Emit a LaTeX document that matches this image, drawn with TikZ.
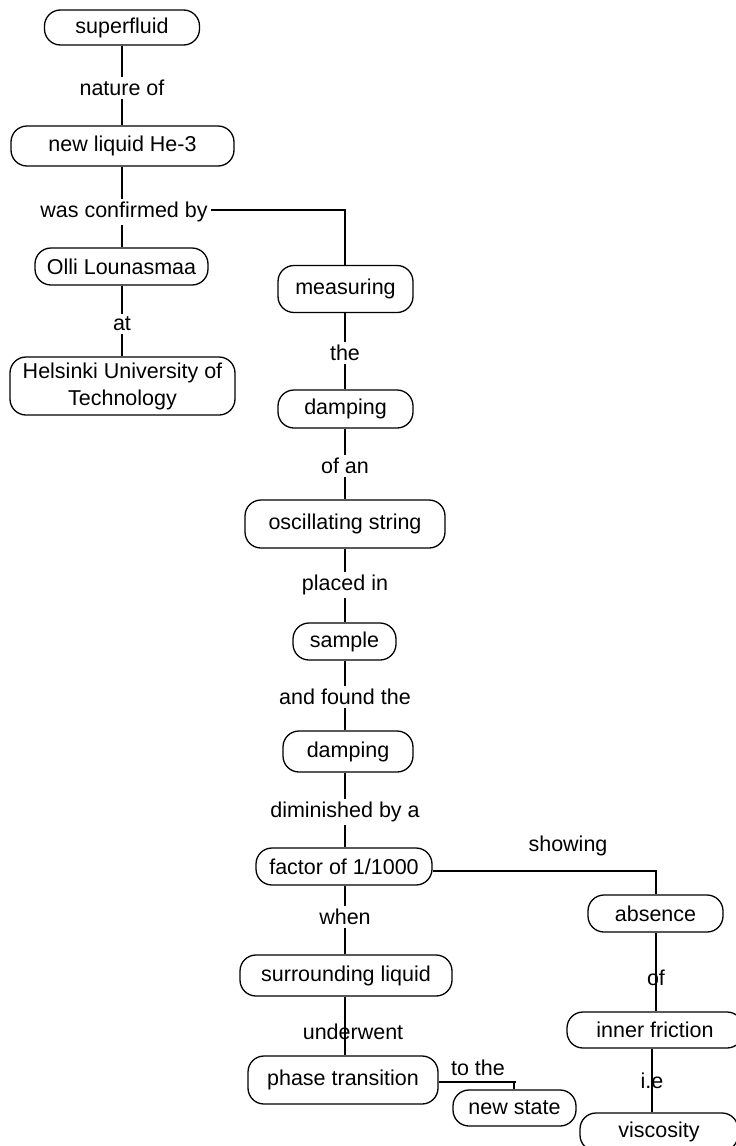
\documentclass[tikz,border=0pt]{standalone}
\usepackage{fontspec}
\setmainfont{Liberation Sans}
\begin{document}
\begin{tikzpicture}[x=1pt,y=-1pt,
  concept/.style={draw, line width=1.3pt, rounded corners=16pt, inner sep=0pt,
    align=center, font=\fontsize{21.5}{27}\selectfont},
  linklabel/.style={inner sep=3pt, font=\fontsize{21.5}{25}\selectfont},
  link/.style={line width=1.4pt}]
\useasboundingbox (0,0) rectangle (736,1146);

% concepts
\node[concept, minimum width=155pt, minimum height=35pt] (superfluid) at (122,27.5) {superfluid};
\node[concept, minimum width=223pt, minimum height=40pt] (helium) at (122.5,146) {new liquid He-3};
\node[concept, minimum width=173pt, minimum height=37pt] (olli) at (121.5,266.5) {Olli Lounasmaa};
\node[concept, minimum width=225pt, minimum height=58pt] (hut) at (122.5,386) {Helsinki University of\\Technology};
\node[concept, minimum width=135pt, minimum height=47pt] (measuring) at (345.5,289) {measuring};
\node[concept, minimum width=135pt, minimum height=38pt] (dampA) at (345.5,409) {damping};
\node[concept, minimum width=200pt, minimum height=48pt] (string) at (345,524) {oscillating string};
\node[concept, minimum width=103pt, minimum height=37pt] (sample) at (344.5,641.5) {sample};
\node[concept, minimum width=130pt, minimum height=41pt] (dampB) at (348,751.5) {damping};
\node[concept, minimum width=176pt, minimum height=37pt] (factor) at (344,866.5) {factor of 1/1000};
\node[concept, minimum width=135pt, minimum height=37pt] (absence) at (655.5,913.5) {absence};
\node[concept, minimum width=212pt, minimum height=41pt] (surround) at (346,975.5) {surrounding liquid};
\node[concept, minimum width=176pt, minimum height=36pt] (friction) at (655,1030) {inner friction};
\node[concept, minimum width=190pt, minimum height=48pt] (phase) at (343,1080) {phase transition};
\node[concept, minimum width=123pt, minimum height=36pt] (newstate) at (514.5,1108) {new state};
\node[concept, minimum width=158pt, minimum height=38pt] (viscosity) at (659,1132) {viscosity};

% linking phrases set apart from their lines
\node[linklabel] (natureof) at (122,88) {nature of};
\node[linklabel] (confirmed) at (124,212) {was confirmed by};
\node[linklabel] (at) at (122,324) {at};
\node[linklabel] (the) at (345,353) {the};
\node[linklabel] (ofan) at (345,466) {of an};
\node[linklabel] (placed) at (345,585) {placed in};
\node[linklabel] (found) at (345,697) {and found the};
\node[linklabel] (diminished) at (345,812) {diminished by a};
\node[linklabel] (showing) at (568,846) {showing};
\node[linklabel] (when) at (345,917) {when};
\node[linklabel] (tothe) at (478,1068) {to the};

% columns, joints and crossings of the connectors
\coordinate (leftcol) at (122,0);
\coordinate (midcol) at (345,0);
\coordinate (confturn) at (345,210);
\coordinate (showturn) at (656,871);
\coordinate (toturn) at (514,1082);
\coordinate (ofcol) at (656,978);
\coordinate (iecol) at (652,1081);

% connectors of the left column
\draw[link] (superfluid.south -| leftcol) -- (natureof.north -| leftcol);
\draw[link] (natureof.south -| leftcol) -- (helium.north -| leftcol);
\draw[link] (helium.south -| leftcol) -- (confirmed.north -| leftcol);
\draw[link] (confirmed.south -| leftcol) -- (olli.north -| leftcol);
\draw[link] (olli.south -| leftcol) -- (at.north -| leftcol);
\draw[link] (at.south -| leftcol) -- (hut.north -| leftcol);
\draw[link] (confirmed.east |- confturn) -- (confturn) -- (measuring.north -| confturn);

% connectors of the middle column
\draw[link] (measuring.south -| midcol) -- (the.north -| midcol);
\draw[link] (the.south -| midcol) -- (dampA.north -| midcol);
\draw[link] (dampA.south -| midcol) -- (ofan.north -| midcol);
\draw[link] (ofan.south -| midcol) -- (string.north -| midcol);
\draw[link] (string.south -| midcol) -- (placed.north -| midcol);
\draw[link] (placed.south -| midcol) -- (sample.north -| midcol);
\draw[link] (sample.south -| midcol) -- (found.north -| midcol);
\draw[link] (found.south -| midcol) -- (dampB.north -| midcol);
\draw[link] (dampB.south -| midcol) -- (diminished.north -| midcol);
\draw[link] (diminished.south -| midcol) -- (factor.north -| midcol);
\draw[link] (factor.south -| midcol) -- (when.north -| midcol);
\draw[link] (when.south -| midcol) -- (surround.north -| midcol);
\draw[link] (surround.south -| midcol) -- (phase.north -| midcol);
\draw[link] (phase.east |- toturn) -- ([xshift=2pt]toturn);
\draw[link] (toturn) -- (newstate.north -| toturn);

% connectors of the right column
\draw[link] (factor.east |- showturn) -- (showturn) -- (absence.north -| showturn);
\draw[link] (absence.south -| ofcol) -- (friction.north -| ofcol);
\draw[link] (friction.south -| iecol) -- (viscosity.north -| iecol);

% linking phrases that sit across their lines
\node[linklabel] (of) at (ofcol) {of};
\node[linklabel] (underwent) at (353,1032) {underwent};
\node[linklabel] (ie) at (iecol) {i.e};
\end{tikzpicture}
\end{document}
